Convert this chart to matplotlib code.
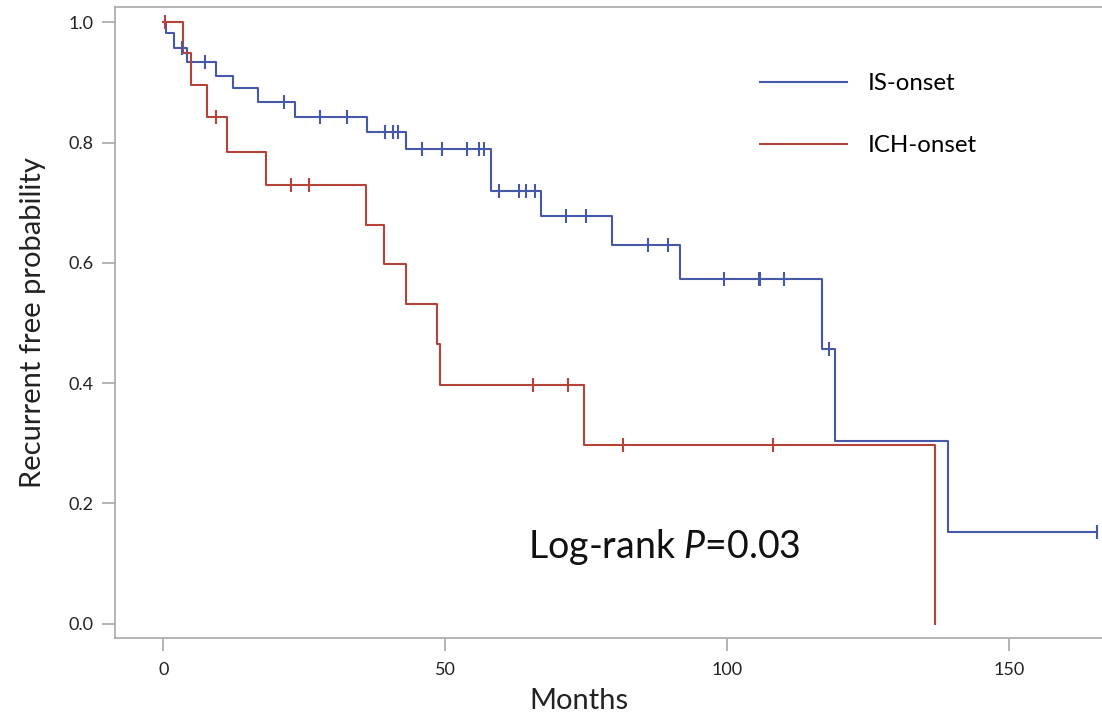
import numpy as np
import matplotlib
matplotlib.use("Agg")
import matplotlib.pyplot as plt

# ---- data ----
is_times = [0, 0.5, 1.8, 4.15, 9.35, 12.3, 16.7, 23.4, 36.1, 43.05, 58.1, 67.0, 79.6, 91.6, 116.8, 119.1, 139.1, 165.6]
is_surv = [1.0, 0.982, 0.957, 0.935, 0.911, 0.891, 0.867, 0.842, 0.818, 0.789, 0.720, 0.678, 0.630, 0.573, 0.457, 0.304, 0.152, 0.152]
is_censor = [3.26, 7.45, 21.4, 27.8, 32.5, 39.3, 40.8, 41.7, 45.9, 49.4, 53.9, 56.0, 56.9,
             59.6, 63.1, 64.3, 65.9, 71.4, 74.9, 86.0, 89.5, 99.4, 105.7, 105.9, 110.1, 118.1, 165.6]

ich_times = [0, 3.55, 4.85, 7.8, 11.35, 18.2, 36.0, 39.2, 43.05, 48.5, 49.0, 74.6, 136.9]
ich_surv = [1.0, 0.949, 0.896, 0.842, 0.785, 0.730, 0.663, 0.598, 0.532, 0.466, 0.397, 0.298, 0.0]
ich_censor = [0.3, 9.35, 22.65, 25.9, 65.6, 71.7, 81.5, 108.1]

xticks = [0, 50, 100, 150]
yticks = [0.0, 0.2, 0.4, 0.6, 0.8, 1.0]

BLUE = "#4659a8"
RED = "#b4433a"
GRAY = "#a8a8a8"

plt.rcParams["font.family"] = ["Lato", "DejaVu Sans"]
plt.rcParams["mathtext.fontset"] = "custom"
plt.rcParams["mathtext.rm"] = "Lato"
plt.rcParams["mathtext.it"] = "Lato:italic"

fig = plt.figure(figsize=(11.02, 7.19), dpi=100)
ax = fig.add_axes([0.1044, 0.1127, 0.8956, 0.8776])


def surv_at(times, surv, t):
    idx = np.searchsorted(times, t, side="right") - 1
    return np.asarray(surv)[idx]


ax.step(is_times, is_surv, where="post", color=BLUE, lw=1.5, label="IS-onset")
ax.step(ich_times, ich_surv, where="post", color=RED, lw=1.5, label="ICH-onset")
ax.plot(is_censor, surv_at(is_times, is_surv, is_censor), ls="none", marker="|",
        ms=10, mew=1.5, color=BLUE)
ax.plot(ich_censor, surv_at(ich_times, ich_surv, ich_censor), ls="none", marker="|",
        ms=10, mew=1.5, color=RED)

ax.set_xlim(-8.57, 166.5)
ax.set_ylim(-0.0238, 1.0258)
ax.set_xticks(xticks)
ax.set_xticklabels([str(v) for v in xticks])
ax.set_yticks(yticks)
ax.set_yticklabels([f"{v:.1f}" for v in yticks])

for s in ["left", "bottom", "top"]:
    ax.spines[s].set_color(GRAY)
    ax.spines[s].set_linewidth(1.2)
ax.spines["right"].set_visible(False)
ax.tick_params(axis="both", direction="out", length=9.5, width=1.2, color=GRAY,
               labelsize=13, labelcolor="#222222")
ax.tick_params(axis="y", pad=6)
ax.tick_params(axis="x", pad=8)

ax.set_xlabel("Months", fontsize=21, color="#222222", labelpad=7)
ax.xaxis.label.set_x(0.470)
ax.set_ylabel("Recurrent free probability", fontsize=21, color="#222222", labelpad=16)

ax.legend(loc="upper left", bbox_to_anchor=(0.6535, 0.895), frameon=False,
          fontsize=17.3, handlelength=3.6, handletextpad=0.9, labelspacing=1.7,
          borderpad=0, borderaxespad=0)

ax.text(64.7, 0.128, r"Log-rank $\mathit{P}$=0.03", fontsize=27, ha="left", va="center",
        color="#111111")

fig.savefig("out.png", dpi=100)
